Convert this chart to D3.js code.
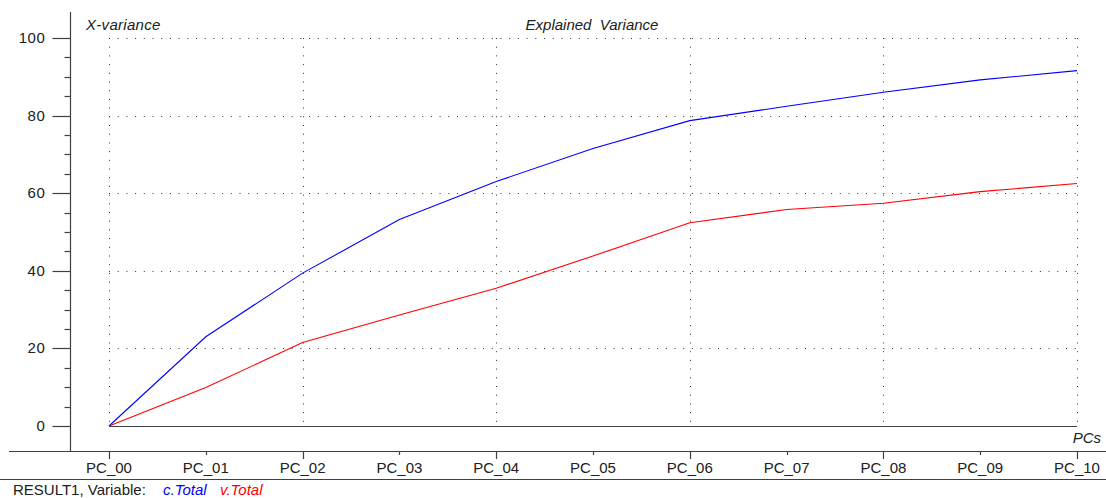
<!DOCTYPE html>
<html>
<head>
<meta charset="utf-8">
<script src="https://cdn.jsdelivr.net/npm/d3@7"></script>
<style>
  html, body { margin: 0; padding: 0; background: #fff; }
  svg { display: block; font-family: "Liberation Sans", Arial, sans-serif; }
  text { white-space: pre; }
</style>
</head>
<body>
<svg id="chart" width="1106" height="498"></svg>
<script>
// Principal components along the x axis
const components = ["PC_00", "PC_01", "PC_02", "PC_03", "PC_04", "PC_05",
                    "PC_06", "PC_07", "PC_08", "PC_09", "PC_10"];
// Cumulative explained X-variance (%) per component
const cTotal = [0, 23.0, 39.4, 53.2, 63.0, 71.5, 78.7, 82.4, 86.0, 89.2, 91.6];
const vTotal = [0, 9.9, 21.5, 28.6, 35.5, 43.8, 52.4, 55.8, 57.4, 60.4, 62.5];
const yTicks = [0, 20, 40, 60, 80, 100];
const yMinorTicks = d3.range(0, 101, 5);
const gridComponents = ["PC_00", "PC_02", "PC_04", "PC_06", "PC_08", "PC_10"];

const svg = d3.select("#chart");
const x = d3.scalePoint().domain(components).range([109, 1077]);
const y = d3.scaleLinear().domain([0, 100]).range([426, 38]);

const axisColor = "#404040";
const textColor = "#202020";
const fontSize = 15;

// Dotted grid
const grid = svg.append("g").attr("stroke", "#333").attr("stroke-width", 1)
  .attr("stroke-dasharray", "1 7.7");
grid.selectAll("line.h").data(yTicks.filter(d => d > 0)).join("line")
  .attr("class", "h")
  .attr("x1", x("PC_00")).attr("x2", x("PC_10"))
  .attr("y1", d => Math.round(y(d)) + 0.5).attr("y2", d => Math.round(y(d)) + 0.5);
grid.selectAll("line.v").data(gridComponents).join("line")
  .attr("class", "v")
  .attr("x1", d => Math.round(x(d)) + 0.5).attr("x2", d => Math.round(x(d)) + 0.5)
  .attr("y1", y(100)).attr("y2", y(0));

// Zero baseline
svg.append("line")
  .attr("x1", x("PC_00")).attr("x2", x("PC_10"))
  .attr("y1", Math.round(y(0)) + 0.5).attr("y2", Math.round(y(0)) + 0.5)
  .attr("stroke", axisColor).attr("stroke-width", 1.2);

// Y axis: major ticks with labels, minor ticks every 5
const yAxis = svg.append("g").attr("transform", "translate(70.5,0)");
yAxis.append("line").attr("y1", 12).attr("y2", 451)
  .attr("stroke", axisColor).attr("stroke-width", 1.2);
yAxis.selectAll("line.minor").data(yMinorTicks).join("line")
  .attr("class", "minor")
  .attr("x1", d => yTicks.includes(d) ? -18 : -6).attr("x2", 0)
  .attr("y1", d => Math.round(y(d)) + 0.5).attr("y2", d => Math.round(y(d)) + 0.5)
  .attr("stroke", axisColor).attr("stroke-width", 1.2);
yAxis.selectAll("text").data(yTicks).join("text")
  .attr("x", -25).attr("y", d => y(d) + 5)
  .attr("text-anchor", "end").attr("font-size", fontSize).attr("fill", textColor)
  .attr("letter-spacing", 0.6)
  .text(d => d);

// X axis band between the two horizontal rules
svg.append("line").attr("x1", 9).attr("x2", 1106).attr("y1", 451.5).attr("y2", 451.5)
  .attr("stroke", axisColor).attr("stroke-width", 1.2);
svg.append("line").attr("x1", 0).attr("x2", 1106).attr("y1", 479.5).attr("y2", 479.5)
  .attr("stroke", axisColor).attr("stroke-width", 1.2);
const xAxis = svg.append("g");
xAxis.selectAll("line").data(components).join("line")
  .attr("x1", d => Math.round(x(d)) + 0.5).attr("x2", d => Math.round(x(d)) + 0.5)
  .attr("y1", 451).attr("y2", (d, i) => i % 2 === 0 ? 459 : 455)
  .attr("stroke", axisColor).attr("stroke-width", 1.2);
xAxis.selectAll("text").data(components).join("text")
  .attr("x", d => x(d)).attr("y", 473)
  .attr("text-anchor", "middle").attr("font-size", fontSize).attr("fill", textColor)
  .text(d => d);

// Series lines
const line = d3.line().x((d, i) => x(components[i])).y(d => y(d));
svg.append("path").datum(cTotal).attr("d", line)
  .attr("fill", "none").attr("stroke", "#0000ff").attr("stroke-width", 1.1);
svg.append("path").datum(vTotal).attr("d", line)
  .attr("fill", "none").attr("stroke", "#ff0000").attr("stroke-width", 1.1);

// Titles
const titles = svg.append("g").attr("font-size", fontSize).attr("font-style", "italic").attr("fill", textColor);
titles.append("text").attr("x", 86).attr("y", 30).attr("letter-spacing", 0.3).text("X-variance");
titles.append("text").attr("x", 592).attr("y", 30).attr("text-anchor", "middle").text("Explained  Variance");
titles.append("text").attr("x", 1101).attr("y", 443).attr("text-anchor", "end").text("PCs");

// Legend line
const legend = svg.append("g").attr("font-size", fontSize);
legend.append("text").attr("x", 13).attr("y", 495).attr("fill", textColor).text("RESULT1, Variable:");
legend.append("text").attr("x", 163).attr("y", 495).attr("fill", "#0000ff").attr("font-style", "italic").text("c.Total");
legend.append("text").attr("x", 220).attr("y", 495).attr("fill", "#ff0000").attr("font-style", "italic").text("v.Total");
</script>
</body>
</html>
